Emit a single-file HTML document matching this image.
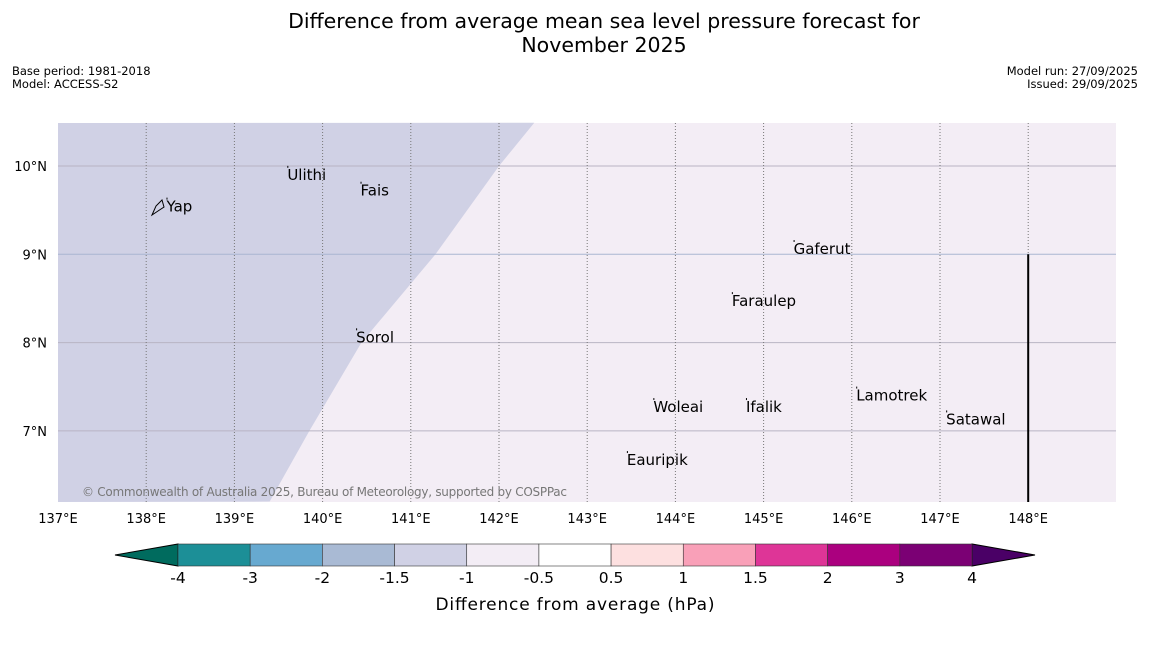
<!DOCTYPE html>
<html><head><meta charset="utf-8"><style>
body{margin:0;background:#fff;width:1150px;height:644px;overflow:hidden;font-family:"DejaVu Sans","Liberation Sans",sans-serif}
</style></head><body>
<svg width="1150" height="644" xmlns="http://www.w3.org/2000/svg" font-family="DejaVu Sans, Liberation Sans, sans-serif">
<text x="604" y="28" font-size="20.5" text-anchor="middle">Difference from average mean sea level pressure forecast for</text>
<text x="604" y="52" font-size="20.5" text-anchor="middle">November 2025</text>
<text x="12" y="75" font-size="11.5">Base period: 1981-2018</text>
<text x="12" y="88" font-size="11.5">Model: ACCESS-S2</text>
<text x="1138" y="75" font-size="11.5" text-anchor="end">Model run: 27/09/2025</text>
<text x="1138" y="88" font-size="11.5" text-anchor="end">Issued: 29/09/2025</text>
<g id="map"></g>
<g id="cbar"></g>
<text x="575" y="610" font-size="17" text-anchor="middle" textLength="279">Difference from average (hPa)</text>
</svg>
<script>
const lonTicks=[137,138,139,140,141,142,143,144,145,146,147,148];
const latTicks=[7,8,9,10];
const boundaryLat=[10.49,10,9,8,7,6.2];
const boundaryLon=[142.4,142.0,141.28,140.44,139.85,139.4];
const places=["Yap","Ulithi","Fais","Sorol","Gaferut","Faraulep","Woleai","Ifalik","Eauripik","Lamotrek","Satawal"];
const placeLon=[138.23,139.6,140.43,140.38,145.34,144.64,143.75,144.8,143.45,146.05,147.07];
const placeLat=[9.54,9.9,9.72,8.06,9.06,8.47,7.27,7.27,6.67,7.4,7.13];
const cbLevels=["-4","-3","-2","-1.5","-1","-0.5","0.5","1","1.5","2","3","4"];
const cbColors=["#1c8f97","#67a9d0","#a9bad4","#d0d1e5","#f3edf5","#ffffff","#fde0e0","#f9a0b8","#de3597","#ab007f","#7b0074"];
const NS="http://www.w3.org/2000/svg";
const X=l=>58+(l-137)*88.2, Y=l=>166+(10-l)*88.3;
const map=document.getElementById('map');
function mk(p,t,a){const e=document.createElementNS(NS,t);for(const k in a)e.setAttribute(k,a[k]);p.appendChild(e);return e;}
let bg=mk(map,'rect',{x:58,y:123,width:1058,height:379,fill:'#f3edf5'});

let pts='58,123 ';boundaryLat.forEach((la,i)=>pts+=X(boundaryLon[i])+','+Y(la)+' ');pts+='58,502';
let poly=mk(map,'polygon',{points:pts,fill:'#d0d1e5'});

latTicks.forEach(l=>{let g=mk(map,'line',{x1:58,x2:1116,y1:Y(l),y2:Y(l),stroke:l==9?'#a9b6d2':'#b8b4c4','stroke-width':1});

let t=mk(map,'text',{x:47,y:Y(l)+5,'font-size':13,'text-anchor':'end'});t.textContent=l+'°N';
});
lonTicks.forEach(l=>{if(l>137){let g=mk(map,'line',{x1:X(l),x2:X(l),y1:123,y2:502,stroke:'#777','stroke-width':1,'stroke-dasharray':'1,2'});
}
let t=mk(map,'text',{x:X(l),y:523,'font-size':13,'text-anchor':'middle'});t.textContent=l+'°E';
});
let vl=mk(map,'line',{x1:X(148),x2:X(148),y1:Y(9),y2:502,stroke:'#000','stroke-width':2});

places.forEach((p,i)=>{let d=mk(map,'rect',{x:X(placeLon[i]),y:Y(placeLat[i])-9,width:1,height:2,fill:'#000'});

let t=mk(map,'text',{x:X(placeLon[i]),y:Y(placeLat[i])+5,'font-size':15});t.textContent=p;
});
let yi=mk(map,'path',{d:'M152,215 L156,206 L162,200 L164,207 L158,211 Z',fill:'none',stroke:'#000','stroke-width':1});

let cr=mk(map,'text',{x:82,y:496,'font-size':12,fill:'#777',textLength:485});cr.textContent='© Commonwealth of Australia 2025, Bureau of Meteorology, supported by COSPPac';

const cb=document.getElementById('cbar');
const cx0=178,cw=(972-178)/cbColors.length,cy=544,ch=22;
let lt=mk(cb,'polygon',{points:`115,555 ${cx0},${cy} ${cx0},${cy+ch}`,fill:'#006b5e',stroke:'#000'});

let rt=mk(cb,'polygon',{points:`1035,555 972,${cy} 972,${cy+ch}`,fill:'#4a0066',stroke:'#000'});

cbColors.forEach((c,i)=>{let r=mk(cb,'rect',{x:cx0+i*cw,y:cy,width:cw,height:ch,fill:c,stroke:'#333','stroke-width':0.6});
});
cbLevels.forEach((l,i)=>{let t=mk(cb,'text',{x:cx0+i*cw,y:583,'font-size':15.5,'text-anchor':'middle'});t.textContent=l;
});
</script>
</body></html>
